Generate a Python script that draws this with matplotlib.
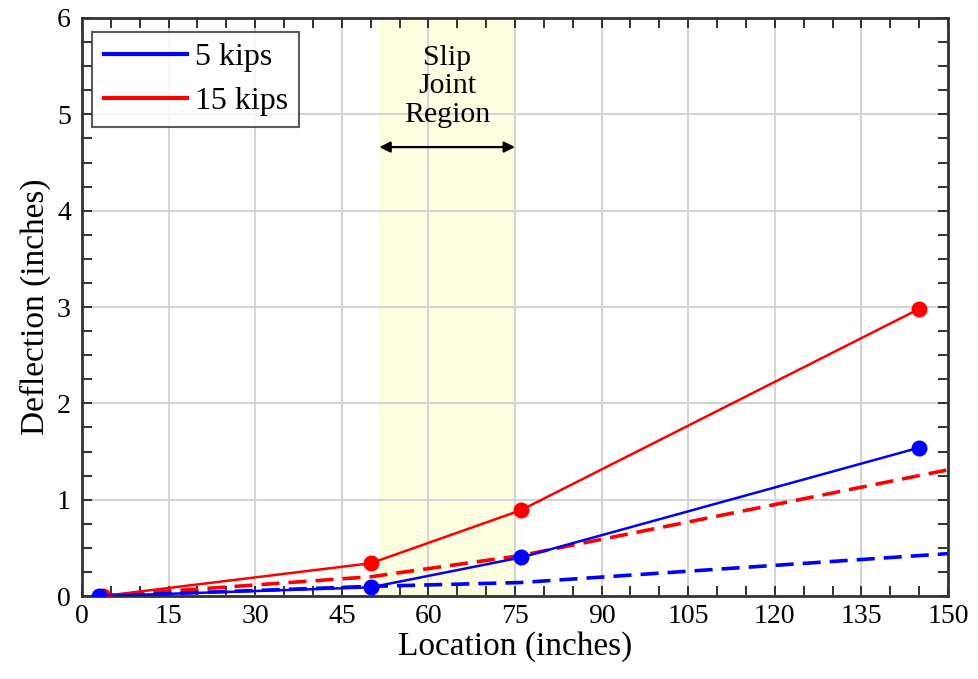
import matplotlib.pyplot as plt
from matplotlib.ticker import MultipleLocator

plt.rcParams['font.family'] = ['Liberation Serif', 'DejaVu Serif']

# measured points
loc_5 = [3, 50, 76, 145]
defl_5 = [0.0, 0.09, 0.40, 1.54]
loc_15 = [3.6, 50, 76, 145]
defl_15 = [0.0, 0.34, 0.89, 2.98]

# dashed reference curves
loc_dash = [3, 50, 76, 150]
dash_5 = [0.0, 0.10, 0.14, 0.44]
dash_15 = [0.0, 0.20, 0.42, 1.31]

slip_start, slip_end = 51.5, 75

fig = plt.figure(figsize=(9.79, 6.79), dpi=100)
ax = fig.add_axes([0.0838, 0.1222, 0.8845, 0.8513])

ax.axvspan(slip_start, slip_end, color='#fdfde0', zorder=0)

ax.plot(loc_dash, dash_15, color='red', lw=2.6, ls=(0, (5, 2.5)), zorder=3)
ax.plot(loc_dash, dash_5, color='blue', lw=2.6, ls=(0, (5, 2.5)), zorder=3)
l15, = ax.plot(loc_15, defl_15, color='red', lw=1.8, marker='o', ms=10.5, label='15 kips', zorder=4)
l5, = ax.plot(loc_5, defl_5, color='blue', lw=1.8, marker='o', ms=10.5, label='5 kips', zorder=5)

ax.annotate('', xy=(slip_start, 4.66), xytext=(slip_end, 4.66),
            arrowprops=dict(arrowstyle='<|-|>', color='black', lw=1.6,
                            mutation_scale=16, shrinkA=0, shrinkB=0))
ax.text((slip_start + slip_end) / 2, 4.86, 'Slip\nJoint\nRegion', ha='center', va='bottom',
        fontsize=21.5, linespacing=1.12)

ax.set_xlim(0, 150)
ax.set_ylim(0, 6)
ax.xaxis.set_major_locator(MultipleLocator(15))
ax.xaxis.set_minor_locator(MultipleLocator(5))
ax.yaxis.set_major_locator(MultipleLocator(1))
ax.yaxis.set_minor_locator(MultipleLocator(0.25))
ax.tick_params(which='both', direction='in', top=True, right=True, width=1.3,
               length=7, labelsize=20, colors='#222222', labelcolor='black')
ax.tick_params(axis='x', pad=6)
ax.tick_params(axis='y', pad=8)
ax.grid(True, which='major', color='#d4d4d4', lw=1.5, zorder=1)
ax.set_axisbelow(True)
for s in ax.spines.values():
    s.set_linewidth(2)
    s.set_color('#333333')

ax.set_xlabel('Location (inches)', fontsize=24, labelpad=1)
ax.set_ylabel('Deflection (inches)', fontsize=24, labelpad=4)

leg = ax.legend(handles=[l5, l15], loc='upper left', fontsize=23, frameon=True, fancybox=False,
                edgecolor='#333333', handlelength=2.6, handletextpad=0.25,
                borderpad=0.35, labelspacing=0.45, borderaxespad=0,
                bbox_to_anchor=(0.012, 0.976))
leg.get_frame().set_linewidth(1.5)
for h in leg.legend_handles:
    h.set_marker('')
    h.set_linewidth(3)

fig.savefig('out.png', dpi=100)
